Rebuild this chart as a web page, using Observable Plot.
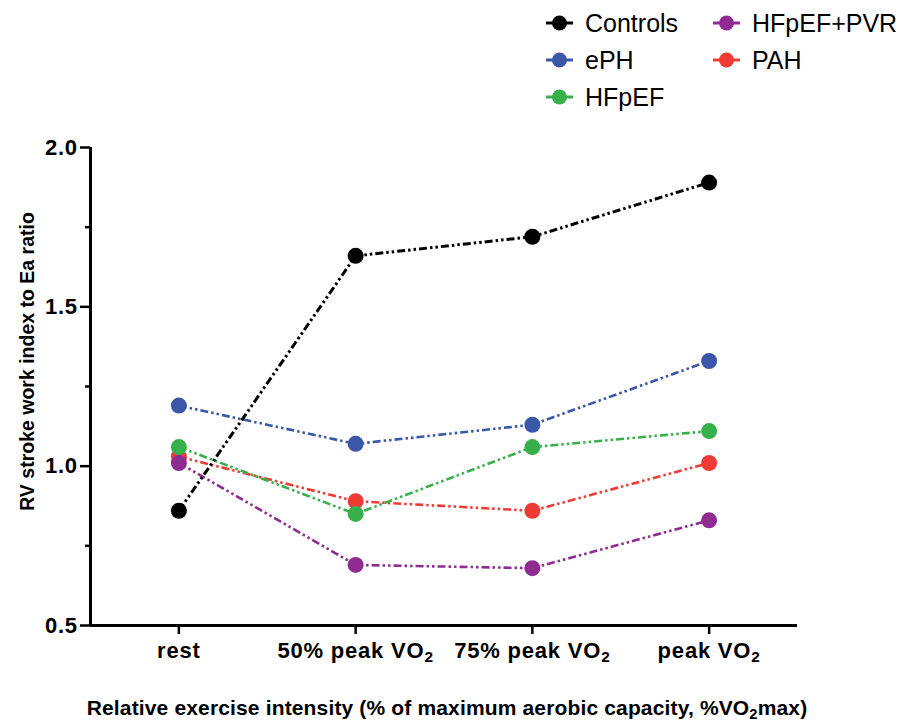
<!DOCTYPE html>
<html>
<head>
<meta charset="utf-8">
<script src="https://cdn.jsdelivr.net/npm/d3@7"></script>
<script src="https://cdn.jsdelivr.net/npm/@observablehq/plot@0.6"></script>
<style>
  body { margin: 0; background: #fff; font-family: "Liberation Sans", Arial, Helvetica, sans-serif; }
  #wrap { width: 907px; height: 723px; position: relative; overflow: hidden; }
  #legend { position: relative; width: 907px; height: 110px; }
  .item { position: absolute; display: flex; align-items: center; font-size: 25px; color: #000; line-height: 1; }
  .item svg { margin-right: 12px; }
  .axis-x text { letter-spacing: 0.8px; }
  .axis-y text { letter-spacing: 0.6px; }
  .xlab text { letter-spacing: 0.15px; }
</style>
</head>
<body>
<div id="wrap">
  <div id="legend"></div>
  <div id="chart"></div>
</div>
<script>
// ---- data ----
const categories = ["rest", "50% peak VO₂", "75% peak VO₂", "peak VO₂"];
const seriesNames = ["Controls", "ePH", "HFpEF", "HFpEF+PVR", "PAH"];
const seriesColors = ["#000000", "#3b57a7", "#36b04a", "#8e2c92", "#ee3b35"];
const controls = [0.86, 1.66, 1.72, 1.89];
const ePH = [1.19, 1.07, 1.13, 1.33];
const HFpEF = [1.06, 0.85, 1.06, 1.11];
const HFpEF_PVR = [1.01, 0.69, 0.68, 0.83];
const PAH = [1.03, 0.89, 0.86, 1.01];
const yMajorTicks = [0.5, 1.0, 1.5, 2.0];
const yMinorTicks = [0.75, 1.25, 1.75];
const yLabel = "RV stroke work index to Ea ratio";
const xLabel = "Relative exercise intensity (% of maximum aerobic capacity, %VO₂max)";

const valuesBySeries = [controls, ePH, HFpEF, HFpEF_PVR, PAH];
const table = [];
seriesNames.forEach((s, k) => {
  valuesBySeries[k].forEach((v, i) => table.push({series: s, step: i, value: v}));
});

// ---- legend ----
const legend = document.getElementById("legend");
const legendPos = [[546, 23], [546, 60], [546, 97], [713, 23], [713, 60]];
seriesNames.forEach((s, k) => {
  const div = document.createElement("div");
  div.className = "item";
  div.style.left = legendPos[k][0] + "px";
  div.style.top = (legendPos[k][1] - 13) + "px";
  div.style.height = "26px";
  const c = seriesColors[k];
  div.innerHTML = `<svg width="27" height="18"><line x1="0" x2="27" y1="9" y2="9" stroke="${c}" stroke-width="3"/><circle cx="13.5" cy="9" r="7.5" fill="${c}"/></svg><span>${s}</span>`;
  legend.appendChild(div);
});

// ---- chart ----
const marks = [];
for (let k = seriesNames.length - 1; k >= 0; k--) {
  const s = seriesNames[k];
  const rows = table.filter(d => d.series === s);
  marks.push(Plot.line(rows, {x: "step", y: "value", stroke: "series",
    strokeWidth: k === 0 ? 3 : 2.6, strokeDasharray: "8,3,2.5,3,2.5,3", strokeLinecap: "butt"}));
  marks.push(Plot.dot(rows, {x: "step", y: "value", fill: "series", r: 8}));
}

const plot = Plot.plot({
  width: 907,
  height: 613,
  marginTop: 37,
  marginBottom: 98,
  marginLeft: 90,
  marginRight: 110,
  style: {fontFamily: "'Liberation Sans', Arial, Helvetica, sans-serif", background: "#fff", overflow: "visible"},
  x: {type: "linear", domain: [-0.5, categories.length - 0.5]},
  y: {domain: [0.5, 2.0]},
  color: {domain: seriesNames, range: seriesColors},
  marks: [
    Plot.axisX({ticks: d3.range(categories.length), tickFormat: i => categories[i], tickSize: 9, tickPadding: 8,
      strokeWidth: 2.5, fontSize: 22, fontWeight: "bold", label: null, className: "axis-x"}),
    Plot.axisY({ticks: yMajorTicks, tickFormat: d3.format(".1f"), tickSize: 10, tickPadding: 3,
      strokeWidth: 2.5, fontSize: 22, fontWeight: "bold", label: null, className: "axis-y"}),
    Plot.axisY({ticks: yMinorTicks, tickFormat: () => "", tickSize: 5, strokeWidth: 2.5, label: null}),
    Plot.ruleX([-0.5], {strokeWidth: 3}),
    Plot.ruleY([0.5], {strokeWidth: 3}),
    ...marks,
    Plot.text([yLabel], {text: d => d, frameAnchor: "left", rotate: -90, dx: -63, dy: -25,
      textAnchor: "middle", lineAnchor: "middle", fontSize: 19.5, fontWeight: "bold"}),
    Plot.text([xLabel], {text: d => d, frameAnchor: "bottom", dx: 3, dy: 83,
      textAnchor: "middle", lineAnchor: "middle", fontSize: 21, fontWeight: "bold", className: "xlab"})
  ]
});

// render "₂" as a real subscript
plot.querySelectorAll("text").forEach(t => {
  const walker = document.createTreeWalker(t, NodeFilter.SHOW_TEXT);
  const nodes = [];
  while (walker.nextNode()) nodes.push(walker.currentNode);
  nodes.forEach(n => {
    if (!n.nodeValue.includes("₂")) return;
    const parts = n.nodeValue.split("₂");
    const frag = document.createDocumentFragment();
    parts.forEach((p, i) => {
      if (p) frag.appendChild(document.createTextNode(p));
      if (i < parts.length - 1) {
        const ts = document.createElementNS("http://www.w3.org/2000/svg", "tspan");
        ts.setAttribute("baseline-shift", "-25%");
        ts.setAttribute("font-size", "70%");
        ts.textContent = "2";
        frag.appendChild(ts);
        const after = document.createElementNS("http://www.w3.org/2000/svg", "tspan");
        frag.appendChild(after);
      }
    });
    n.parentNode.replaceChild(frag, n);
  });
});

document.getElementById("chart").appendChild(plot);
</script>
</body>
</html>
